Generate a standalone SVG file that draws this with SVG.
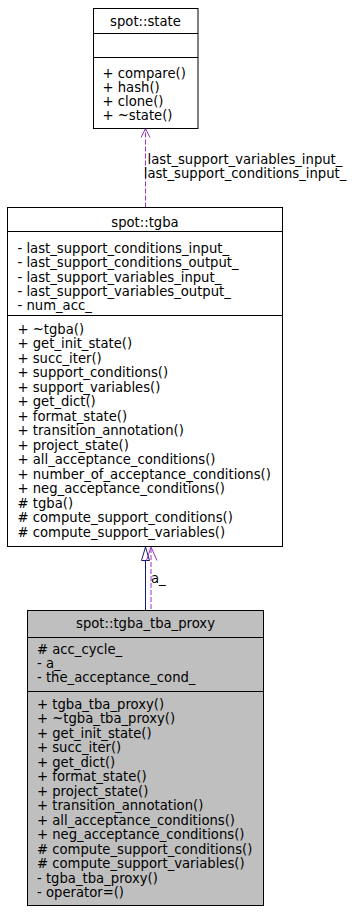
<svg xmlns="http://www.w3.org/2000/svg" width="356" height="914" viewBox="0 0 356 914">
  <style>
    .box { fill: #ffffff; stroke: #000000; stroke-width: 1; }
    .grey { fill: #bfbfbf; }
    .sep { stroke: #000000; stroke-width: 1; }
    text { font-family: "DejaVu Sans", "Liberation Sans", sans-serif; font-size: 13.2px; fill: #000000; }
    .title { text-anchor: middle; }
    .usage { stroke: #9a32cd; stroke-width: 1; fill: none; }
    .dash { stroke-dasharray: 5,2; }
    .inherit { stroke: #191970; stroke-width: 1; fill: none; }
  </style>

  <!-- connectors -->
  <g id="edges">
    <!-- spot::tgba uses spot::state -->
    <line class="usage dash" x1="145.5" y1="207.5" x2="145.5" y2="129"/>
    <polyline class="usage" points="141,137.5 145.5,128.5 150,137.5"/>
    <text x="245" y="163.5" class="title">last_support_variables_input_</text>
    <text x="245" y="178" class="title">last_support_conditions_input_</text>

    <!-- spot::tgba_tba_proxy inherits spot::tgba -->
    <line class="inherit" x1="145.5" y1="560.5" x2="145.5" y2="610.5"/>
    <polygon class="inherit" style="fill:#ffffff" points="145.5,547 141.5,560.5 149.5,560.5"/>

    <!-- spot::tgba_tba_proxy member a_ refers to spot::tgba -->
    <line class="usage dash" x1="151" y1="548" x2="151" y2="610.5"/>
    <polyline class="usage" points="146.5,560.5 151,547 157,560.5"/>
    <text x="151" y="582.5">a_</text>
  </g>

  <!-- spot::state -->
  <g id="node-state">
    <rect class="box" x="93.5" y="8.5" width="104.5" height="120"/>
    <line class="sep" x1="93.5" y1="33.5" x2="198" y2="33.5"/>
    <line class="sep" x1="93.5" y1="57.5" x2="198" y2="57.5"/>
    <text x="145.5" y="25.5" class="title">spot::state</text>
    <text x="102.5" y="77.5">+ compare()</text>
    <text x="102.5" y="91.5">+ hash()</text>
    <text x="102.5" y="106">+ clone()</text>
    <text x="102.5" y="120">+ ~state()</text>
  </g>

  <!-- spot::tgba -->
  <g id="node-tgba">
    <rect class="box" x="7.5" y="207.5" width="275" height="339"/>
    <line class="sep" x1="7.5" y1="231.5" x2="282.5" y2="231.5"/>
    <line class="sep" x1="7.5" y1="315.5" x2="282.5" y2="315.5"/>
    <text x="145" y="226.5" class="title">spot::tgba</text>
    <text x="17.5" y="252.5">- last_support_conditions_input_</text>
    <text x="17.5" y="267">- last_support_conditions_output_</text>
    <text x="17.5" y="281.5">- last_support_variables_input_</text>
    <text x="17.5" y="296">- last_support_variables_output_</text>
    <text x="17.5" y="310">- num_acc_</text>
    <text x="17.5" y="333.5">+ ~tgba()</text>
    <text x="17.5" y="348">+ get_init_state()</text>
    <text x="17.5" y="362.5">+ succ_iter()</text>
    <text x="17.5" y="377">+ support_conditions()</text>
    <text x="17.5" y="391.5">+ support_variables()</text>
    <text x="17.5" y="406">+ get_dict()</text>
    <text x="17.5" y="420.5">+ format_state()</text>
    <text x="17.5" y="435">+ transition_annotation()</text>
    <text x="17.5" y="449.5">+ project_state()</text>
    <text x="17.5" y="464">+ all_acceptance_conditions()</text>
    <text x="17.5" y="478.5">+ number_of_acceptance_conditions()</text>
    <text x="17.5" y="493">+ neg_acceptance_conditions()</text>
    <text x="17.5" y="507.5"># tgba()</text>
    <text x="17.5" y="522"># compute_support_conditions()</text>
    <text x="17.5" y="536.5"># compute_support_variables()</text>
  </g>

  <!-- spot::tgba_tba_proxy -->
  <g id="node-tgba_tba_proxy">
    <rect class="box grey" x="27.5" y="610.5" width="236" height="295"/>
    <line class="sep" x1="27.5" y1="637.5" x2="263.5" y2="637.5"/>
    <line class="sep" x1="27.5" y1="691.5" x2="263.5" y2="691.5"/>
    <text x="145.5" y="627.5" class="title">spot::tgba_tba_proxy</text>
    <text x="37" y="653.5"># acc_cycle_</text>
    <text x="37" y="667.5">- a_</text>
    <text x="37" y="682">- the_acceptance_cond_</text>
    <text x="37" y="708.5">+ tgba_tba_proxy()</text>
    <text x="37" y="723">+ ~tgba_tba_proxy()</text>
    <text x="37" y="737.5">+ get_init_state()</text>
    <text x="37" y="752">+ succ_iter()</text>
    <text x="37" y="766.5">+ get_dict()</text>
    <text x="37" y="781">+ format_state()</text>
    <text x="37" y="795.5">+ project_state()</text>
    <text x="37" y="810">+ transition_annotation()</text>
    <text x="37" y="824.5">+ all_acceptance_conditions()</text>
    <text x="37" y="839">+ neg_acceptance_conditions()</text>
    <text x="37" y="853.5"># compute_support_conditions()</text>
    <text x="37" y="868"># compute_support_variables()</text>
    <text x="37" y="882.5">- tgba_tba_proxy()</text>
    <text x="37" y="897">- operator=()</text>
  </g>
</svg>
